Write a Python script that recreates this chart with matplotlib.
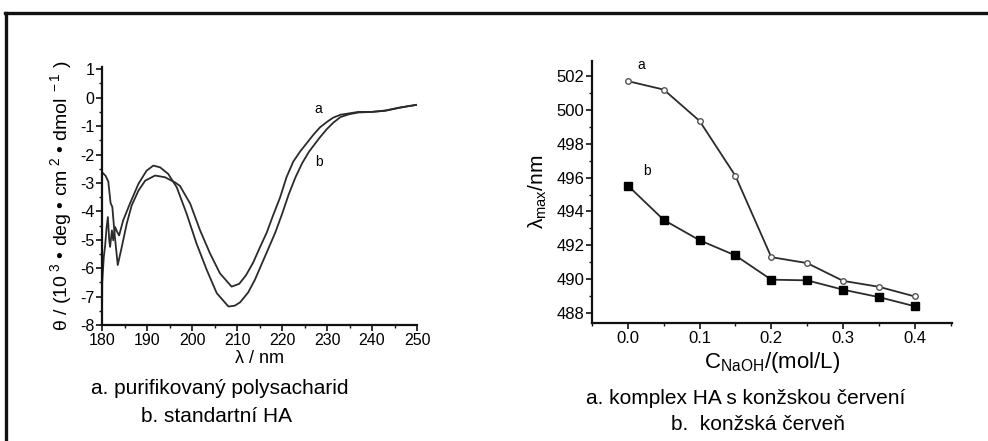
import matplotlib
matplotlib.use("Agg")
import matplotlib.pyplot as plt
from matplotlib.lines import Line2D
from matplotlib.ticker import MultipleLocator, FormatStrFormatter

plt.rcParams['font.family'] = ['Liberation Sans', 'DejaVu Sans']
plt.rcParams['mathtext.fontset'] = 'custom'
plt.rcParams['mathtext.rm'] = 'Liberation Sans'
plt.rcParams['mathtext.it'] = 'Liberation Sans:italic'
plt.rcParams['mathtext.default'] = 'rm'
plt.rcParams['axes.unicode_minus'] = False

# CD spectra (wavelength in nm, ellipticity in 10^3 deg cm^2 dmol^-1)
cd_a_wl = [180.0, 180.8, 181.4, 181.9, 182.3, 182.8, 183.5, 184.4, 185.5, 186.6,
           188.1, 189.6, 191.8, 194.0, 196.2, 197.3, 199.6, 201.8, 204.0, 206.2,
           208.8, 210.5, 212.0, 213.6, 215.0, 216.6, 218.0, 219.6, 221.0, 222.5,
           224.0, 225.5, 227.0, 228.4, 230.0, 231.4, 233.0, 235.0, 237.0, 240.0,
           243.0, 246.0, 248.0, 250.0]
cd_a_val = [-2.62, -2.75, -2.95, -3.70, -3.85, -4.80, -5.89, -5.25, -4.43, -3.79,
            -3.27, -2.92, -2.74, -2.80, -2.98, -3.10, -3.73, -4.67, -5.48, -6.18,
            -6.65, -6.55, -6.25, -5.80, -5.30, -4.75, -4.15, -3.50, -2.80, -2.25,
            -1.90, -1.60, -1.30, -1.05, -0.85, -0.70, -0.60, -0.55, -0.50, -0.50,
            -0.45, -0.35, -0.30, -0.25]

cd_b_wl = [180.0, 180.05, 180.4, 180.7, 181.0, 181.3, 181.6, 181.8, 182.2, 182.5,
           182.9, 183.3, 183.8, 184.7, 186.2, 188.1, 189.9, 191.4, 192.9, 194.7,
           196.6, 198.8, 201.0, 203.3, 205.5, 208.1, 209.5, 210.7, 212.5, 214.0,
           215.5, 217.0, 218.5, 220.0, 221.5, 223.0, 224.5, 226.0, 228.4, 230.0,
           231.4, 233.0, 235.0, 237.0, 240.0, 243.0, 246.0, 248.0, 250.0]
cd_b_val = [-7.90, -6.50, -5.60, -5.20, -4.60, -4.20, -5.00, -5.25, -4.67, -5.02,
            -4.55, -4.70, -4.85, -4.32, -3.73, -3.03, -2.57, -2.39, -2.45, -2.68,
            -3.15, -4.08, -5.13, -6.07, -6.88, -7.35, -7.32, -7.20, -6.85, -6.40,
            -5.85, -5.30, -4.75, -4.10, -3.40, -2.80, -2.30, -1.90, -1.40, -1.10,
            -0.88, -0.68, -0.58, -0.52, -0.50, -0.46, -0.36, -0.30, -0.25]

# Absorption maximum vs NaOH concentration
c_naoh = [0.0, 0.05, 0.1, 0.15, 0.2, 0.25, 0.3, 0.35, 0.4]
lam_complex = [501.7, 501.2, 499.35, 496.1, 491.3, 490.95, 489.9, 489.55, 488.98]
lam_congo = [495.53, 493.5, 492.3, 491.4, 489.97, 489.93, 489.38, 488.94, 488.4]

left_xticks = [180, 190, 200, 210, 220, 230, 240, 250]
left_yticks = [1, 0, -1, -2, -3, -4, -5, -6, -7, -8]
right_xticks = [0.0, 0.1, 0.2, 0.3, 0.4]
right_yticks = [488, 490, 492, 494, 496, 498, 500, 502]

W, H = 988, 441
fig = plt.figure(figsize=(W / 100, H / 100), dpi=100)

line_col = '#2b2b2b'

def style_axes(ax):
    for s in ('top', 'right'):
        ax.spines[s].set_visible(False)
    for s in ('left', 'bottom'):
        ax.spines[s].set_linewidth(1.6)
        ax.spines[s].set_color('#111111')
    ax.tick_params(which='major', direction='out', length=4, width=1.2, color='#111111', pad=1.5)
    ax.tick_params(which='minor', direction='out', length=2.5, width=1.0, color='#111111')

# ---- left panel: CD spectra
ax1 = fig.add_axes([102 / W, 1 - 325 / H, 315 / W, (325 - 67) / H])
ax1.plot(cd_a_wl, cd_a_val, color=line_col, lw=1.3)
ax1.plot(cd_b_wl, cd_b_val, color=line_col, lw=1.3)
ax1.set_xlim(180, 250)
ax1.set_ylim(-8, 1.08)
ax1.set_xticks(left_xticks)
ax1.set_yticks(left_yticks)
ax1.xaxis.set_minor_locator(MultipleLocator(5))
ax1.yaxis.set_minor_locator(MultipleLocator(0.5))
style_axes(ax1)
ax1.tick_params(axis='both', labelsize=11.5)
ax1.set_xlabel('λ / nm', fontsize=13, labelpad=2)
ax1.set_ylabel(r'θ / (10$^{\ 3}$ • deg • cm$^{\ 2}$ • dmol$^{\ -1}$ )', fontsize=14, labelpad=4)
ax1.text(228, -0.4, 'a', fontsize=10, ha='center', va='center')
ax1.text(228.3, -2.27, 'b', fontsize=10, ha='center', va='center')

fig.text(220 / W, 1 - 388 / H, 'a. purifikovaný polysacharid', fontsize=15, ha='center', va='center')
fig.text(216 / W, 1 - 416 / H, 'b. standartní HA', fontsize=15, ha='center', va='center')

# ---- right panel: lambda max vs NaOH
ax2 = fig.add_axes([592 / W, 1 - 323 / H, 360 / W, (323 - 61) / H])
ax2.plot(c_naoh, lam_complex, color=line_col, lw=1.3, marker='o', ms=4,
         mfc='white', mec='#555555', mew=1.0)
ax2.plot(c_naoh, lam_congo, color=line_col, lw=1.3, marker='s', ms=5.5,
         mfc='black', mec='black')
ax2.set_xlim(-0.05, 0.452)
ax2.set_ylim(487.41, 502.89)
ax2.set_xticks(right_xticks)
ax2.set_yticks(right_yticks)
ax2.xaxis.set_major_formatter(FormatStrFormatter('%.1f'))
ax2.xaxis.set_minor_locator(MultipleLocator(0.05))
ax2.yaxis.set_minor_locator(MultipleLocator(1))
style_axes(ax2)
ax2.tick_params(axis='both', labelsize=12)
ax2.set_xlabel(r'C$_{\rm NaOH}$/(mol/L)', fontsize=16, labelpad=3)
ax2.set_ylabel(r'λ$_{\rm max}$/nm', fontsize=15, labelpad=5)
ax2.text(0.019, 502.65, 'a', fontsize=10, ha='center', va='center')
ax2.text(0.026, 496.4, 'b', fontsize=10, ha='center', va='center')

fig.text(746 / W, 1 - 398 / H, 'a. komplex HA s konžskou červení', fontsize=15, ha='center', va='center')
fig.text(758 / W, 1 - 425 / H, 'b.  konžská červeň', fontsize=15, ha='center', va='center')

# frame lines (top and left)
fig.add_artist(Line2D([5 / W, 1.0], [1 - 12.5 / H, 1 - 12.5 / H], color='#111111', lw=2.4))
fig.add_artist(Line2D([6 / W, 6 / W], [0.0, 1 - 12.5 / H], color='#111111', lw=2.4))

fig.savefig('out.png', dpi=100)
